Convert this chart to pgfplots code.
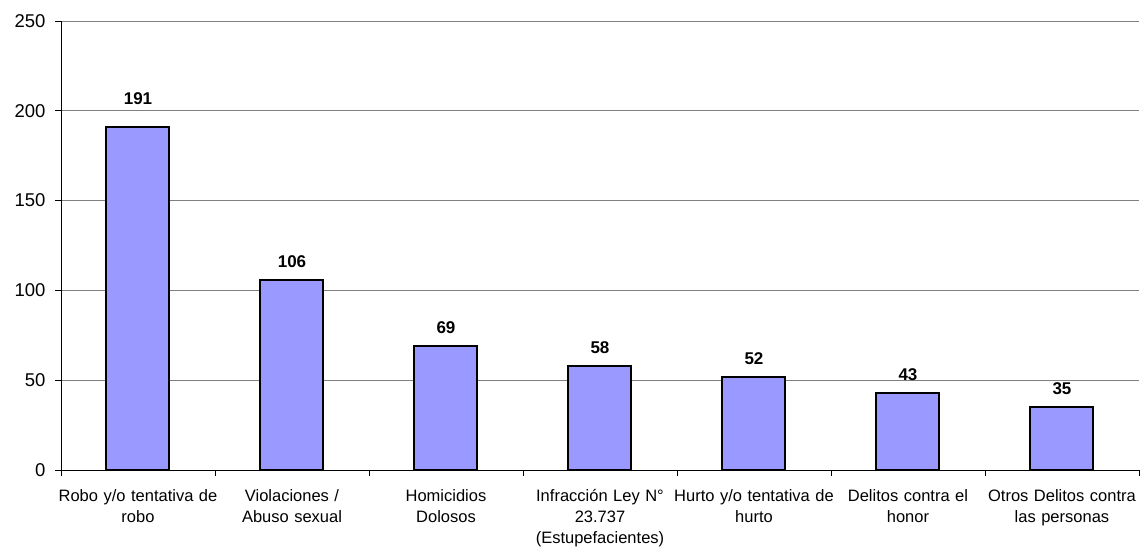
\documentclass[border=0pt]{standalone}
\usepackage{fontspec}
\setmainfont{Liberation Sans}
\usepackage{pgfplots}
\pgfplotsset{compat=1.18}
\definecolor{barblue}{HTML}{9999FF}
\definecolor{gridgray}{HTML}{808080}

\begin{document}
\begin{tikzpicture}
\useasboundingbox (-61bp,-80bp) rectangle (1079bp,470bp);
\begin{axis}[
    at={(0,0)}, anchor=south west,
    width=1078bp, height=449bp,
    scale only axis,
    ymin=0, ymax=250,
    xmin=-0.5, xmax=6.5,
    ytick={0,50,...,250},
    xtick={0,...,6},
    xticklabels={
        {Robo y/o tentativa de\\robo},
        {Violaciones /\\Abuso sexual},
        {Homicidios\\Dolosos},
        {Infracción Ley N°\\23.737\\(Estupefacientes)},
        {Hurto y/o tentativa de\\hurto},
        {Delitos contra el\\honor},
        {Otros Delitos contra\\las personas}},
    minor xtick={-0.5,0.5,...,6.5},
    major x tick style={draw=none},
    tick align=outside,
    major tick length=6bp,
    minor tick length=6bp,
    tick style={black, line width=0.8bp},
    axis x line*=bottom,
    axis y line*=left,
    axis line style={black, line width=1bp},
    ymajorgrids,
    grid style={gridgray, line width=0.8bp},
    /pgf/number format/assume math mode=true,
    yticklabel style={font=\fontsize{18.5bp}{20bp}\selectfont, xshift=-6bp},
    xticklabel style={font=\fontsize{16.5bp}{20.7bp}\selectfont, align=center, text width=160bp, anchor=north, yshift=-10bp},
    ybar,
    bar width=63bp,
    nodes near coords,
    visualization depends on={y \as \rawy},
    every node near coord/.append style={font=\fontsize{17bp}{19bp}\selectfont\bfseries,
        yshift={ifthenelse(\rawy>150,18,8)*1bp}},
]
\addplot [fill=barblue, draw=black, line width=2bp] coordinates {
    (0,191) (1,106) (2,69) (3,58) (4,52) (5,43) (6,35)
};
\end{axis}
\end{tikzpicture}
\end{document}
